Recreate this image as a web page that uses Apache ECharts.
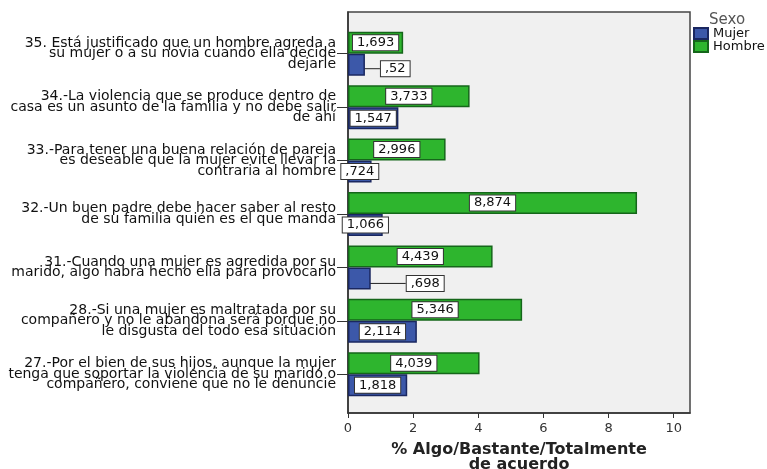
<!DOCTYPE html>
<html>
<head>
<meta charset="utf-8">
<script src="https://cdn.jsdelivr.net/npm/echarts@6/dist/echarts.min.js"></script>
<style>html,body{margin:0;padding:0;background:#fff}#c{width:767px;height:469px}</style>
</head>
<body>
<div id="c"></div>
<script>
const categories = [
  "35. Está justificado que un hombre agreda a\nsu mujer o a su novia cuando ella decide\ndejarle",
  "34.-La violencia que se produce dentro de\ncasa es un asunto de la familia y no debe salir\nde ahí",
  "33.-Para tener una buena relación de pareja\nes deseable que la mujer evite llevar la\ncontraria al hombre",
  "32.-Un buen padre debe hacer saber al resto\nde su familia quién es el que manda",
  "31.-Cuando una mujer es agredida por su\nmarido, algo habrá hecho ella para provocarlo",
  "28.-Si una mujer es maltratada por su\ncompañero y no le abandona será porque no\nle disgusta del todo esa situación",
  "27.-Por el bien de sus hijos, aunque la mujer\ntenga que soportar la violencia de su marido o\ncompañero, conviene que no le denuncie"
];
const mujer = [0.52, 1.547, 0.724, 1.066, 0.698, 2.114, 1.818];
const hombre = [1.693, 3.733, 2.996, 8.874, 4.439, 5.346, 4.039];
const xTicks = [0, 2, 4, 6, 8, 10];
const legendTitle = "Sexo";
const axisTitle = "% Algo/Bastante/Totalmente\nde acuerdo";

// label displacement (style only) for labels that sit outside their bar with a leader line
const leaderShift = { 0: [16, 4], 4: [36, 5] };

function fmt(v) { return String(v).replace(/^0\./, '.').replace('.', ','); }

const labelBase = {
  show: true, position: 'inside', formatter: p => fmt(p.value),
  backgroundColor: '#fff', borderColor: '#333', borderWidth: 1,
  padding: [1, 4, 0, 4], color: '#111', fontFamily: 'DejaVu Sans', fontSize: 13, lineHeight: 14
};

const X_MAX = 10.5;

const chart = echarts.init(document.getElementById('c'));
chart.setOption({
  animation: false,
  backgroundColor: '#fff',
  title: { text: legendTitle, left: 709, top: 13, padding: 0, textStyle: { fontFamily: 'DejaVu Sans', fontSize: 15, fontWeight: 'normal', color: '#555' } },
  legend: {
    data: ['Mujer', 'Hombre'], orient: 'vertical', left: 693, top: 27, padding: 0, icon: 'rect',
    itemWidth: 14, itemHeight: 11, itemGap: 0,
    textStyle: { fontFamily: 'DejaVu Sans', fontSize: 13, color: '#111', lineHeight: 11 }
  },
  grid: [
    { left: 348, right: 77, top: 27, bottom: 68, containLabel: false, outerBoundsMode: 'none' },
    { left: 348, right: 77, top: 12, bottom: 56, containLabel: false, outerBoundsMode: 'none', show: true, z: 0,
      backgroundColor: '#f0f0f0', borderColor: '#444', borderWidth: 1.5 }
  ],
  xAxis: [
    { gridIndex: 0, type: 'value', min: xTicks[0], max: X_MAX, show: false },
    { gridIndex: 1, type: 'value', min: xTicks[0], max: X_MAX, interval: 2,
      axisLine: { show: true, onZero: false, lineStyle: { color: '#333', width: 1.5 } },
      axisTick: { show: true, length: 5, lineStyle: { color: '#333' } },
      axisLabel: { showMaxLabel: false, margin: 9, fontFamily: 'DejaVu Sans', fontSize: 13, color: '#333' },
      splitLine: { show: false },
      name: axisTitle, nameLocation: 'middle', nameGap: 29.5,
      nameTextStyle: { fontFamily: 'DejaVu Sans', fontWeight: 'bold', fontSize: 16, color: '#222', lineHeight: 15 } }
  ],
  yAxis: [
    { gridIndex: 0, type: 'category', data: categories, inverse: true,
      axisLine: { show: false },
      axisTick: { show: true, alignWithLabel: true, length: 11, lineStyle: { color: '#333' } },
      axisLabel: { margin: 12, align: 'right', padding: [6, 0, 0, 0], backgroundColor: 'rgba(255,255,255,0)',
        fontFamily: 'DejaVu Sans', fontSize: 14, lineHeight: 10.5, color: '#111' } },
    { gridIndex: 1, type: 'value', min: 0, max: 1,
      axisLine: { show: true, onZero: false, lineStyle: { color: '#333', width: 1.5 } },
      axisTick: { show: false }, axisLabel: { show: false }, splitLine: { show: false } }
  ],
  series: [
    { name: 'Hombre', type: 'bar', xAxisIndex: 0, yAxisIndex: 0, data: hombre, barWidth: 22, barGap: '0%', z: 3,
      itemStyle: { color: '#2eb52e', borderColor: '#15661a', borderWidth: 1.5 }, label: labelBase },
    { name: 'Mujer', type: 'bar', xAxisIndex: 0, yAxisIndex: 0, data: mujer, barWidth: 22, barGap: '0%', z: 3,
      itemStyle: { color: '#3c58a9', borderColor: '#1a2760', borderWidth: 1.5 }, label: labelBase,
      labelLine: { show: true, lineStyle: { color: '#222', width: 1 } },
      labelLayout: function (params) {
        const s = leaderShift[params.dataIndex];
        if (!s) return {};
        const r = params.rect;
        return { x: r.x + r.width + s[0], y: r.y + r.height / 2 + s[1], align: 'left', verticalAlign: 'middle' };
      } }
  ]
});
</script>
</body>
</html>
